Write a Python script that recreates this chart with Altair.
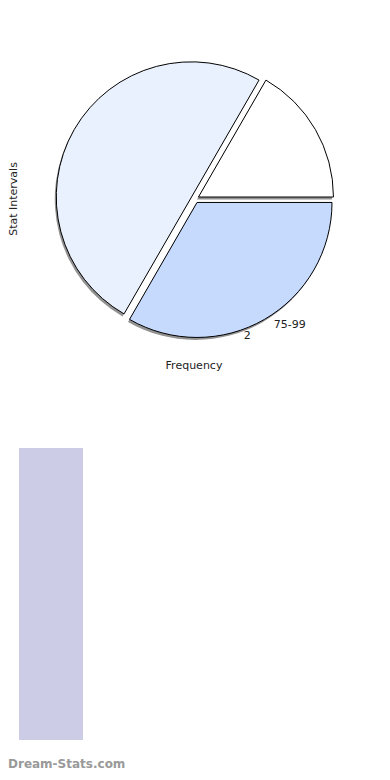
import altair as alt
import pandas as pd

# ---- data ----
slice_order = [0, 1, 2]
frequencies = [1, 2, 3]
interval_labels = ["", "75-99", ""]
value_labels = ["", "2", ""]
slice_colors = ["#ffffff", "#c6dafe", "#eaf1fe"]

bar_categories = ["A"]
bar_values = [1]

pie_df = pd.DataFrame({
    "order": slice_order,
    "freq": frequencies,
    "interval": interval_labels,
    "vlabel": value_labels,
    "color": slice_colors,
})
bar_df = pd.DataFrame({"cat": bar_categories, "v": bar_values})

CX, CY, R, EXPLODE = 187, 191, 135, 4

base = (
    alt.Chart(pie_df)
    .transform_window(cum="sum(freq)", sort=[alt.SortField("order")])
    .transform_joinaggregate(total="sum(freq)")
    .transform_calculate(
        t0="PI/6 + 2*PI*(datum.cum - datum.freq)/datum.total",
        t1="PI/6 + 2*PI*datum.cum/datum.total",
    )
    .transform_calculate(mid="(datum.t0 + datum.t1)/2")
    .transform_calculate(
        cx=f"{CX} + {EXPLODE}*sin(datum.mid)",
        cy=f"{CY} - {EXPLODE}*cos(datum.mid)",
    )
)

shadow = base.transform_calculate(
    sx="datum.cx - 1.5", sy="datum.cy + 2.5"
).mark_arc(radius=R, color="#777777", opacity=0.8).encode(
    x=alt.X("sx:Q", scale=None, axis=None),
    y=alt.Y("sy:Q", scale=None, axis=None),
    theta=alt.Theta("t0:Q", scale=None),
    theta2="t1:Q",
)

slices = base.mark_arc(radius=R, stroke="#000000", strokeWidth=1).encode(
    x=alt.X("cx:Q", scale=None, axis=None),
    y=alt.Y("cy:Q", scale=None, axis=None),
    theta=alt.Theta("t0:Q", scale=None),
    theta2="t1:Q",
    fill=alt.Fill("color:N", scale=None),
)

cat_labels = base.transform_filter("datum.interval != ''").transform_calculate(
    lx=f"{CX} + 158*sin(datum.mid - 0.12)",
    ly=f"{CY} - 158*cos(datum.mid - 0.12)",
).mark_text(font="DejaVu Sans", fontSize=11, color="#222222").encode(
    x=alt.X("lx:Q", scale=None, axis=None),
    y=alt.Y("ly:Q", scale=None, axis=None),
    text="interval:N",
)

val_labels = base.transform_filter("datum.vlabel != ''").transform_calculate(
    lx=f"{CX} + 147*sin(datum.mid + 0.16)",
    ly=f"{CY} - 147*cos(datum.mid + 0.16)",
).mark_text(font="DejaVu Sans", fontSize=11, color="#222222").encode(
    x=alt.X("lx:Q", scale=None, axis=None),
    y=alt.Y("ly:Q", scale=None, axis=None),
    text="vlabel:N",
)

y_title = alt.Chart(pd.DataFrame({"t": ["Stat Intervals"]})).mark_text(
    font="DejaVu Sans", fontSize=11, angle=270, color="#222222", baseline="middle"
).encode(x=alt.value(6), y=alt.value(CY), text="t:N")

x_title = alt.Chart(pd.DataFrame({"t": ["Frequency"]})).mark_text(
    font="DejaVu Sans", fontSize=11, color="#222222"
).encode(x=alt.value(CX - 1), y=alt.value(358), text="t:N")

bar = alt.Chart(bar_df).mark_bar(color="#ccccE6").encode(
    x=alt.X("cat:N", scale=alt.Scale(range=[11, 75], paddingInner=0, paddingOuter=0), axis=None),
    y=alt.Y("v:Q", scale=alt.Scale(domain=[0, 1], range=[732, 440]), axis=None),
)

brand = alt.Chart(pd.DataFrame({"t": ["Dream-Stats.com"]})).mark_text(
    font="DejaVu Sans", fontSize=12, fontWeight="bold", color="#999999",
    align="left", baseline="bottom"
).encode(x=alt.value(0), y=alt.value(763), text="t:N")

chart = (
    alt.layer(shadow, slices, cat_labels, val_labels, y_title, x_title, bar, brand)
    .resolve_scale(x="independent", y="independent")
    .properties(width=374, height=764, autosize=alt.AutoSizeParams(type="none"), padding=0)
    .configure_view(stroke=None)
)

chart.save("out.html", embed_options={"renderer": "svg", "actions": False})
